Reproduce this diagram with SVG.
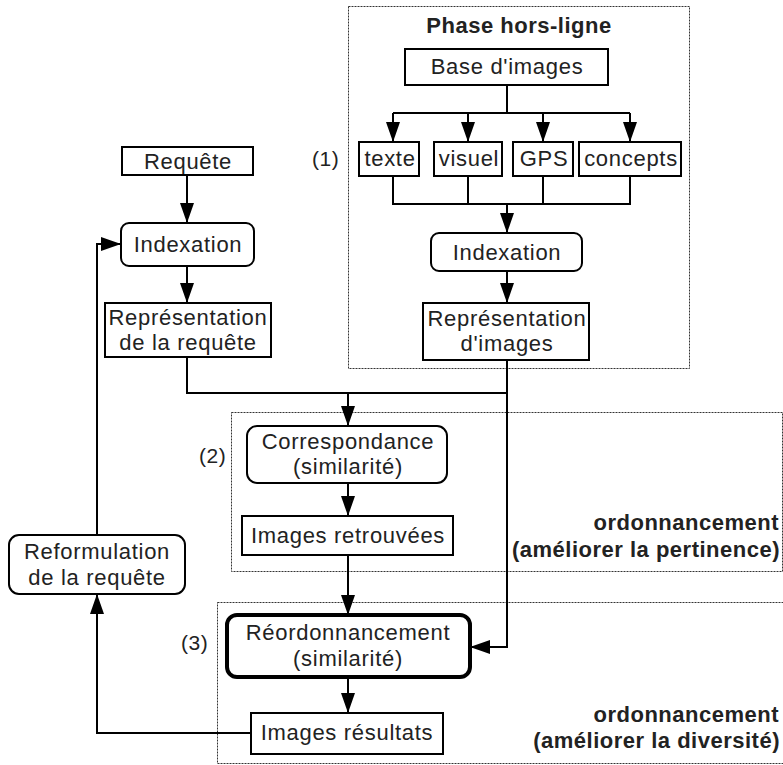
<svg xmlns="http://www.w3.org/2000/svg" width="783" height="765" viewBox="0 0 783 765">
  <style>
    .box { fill: #fff; stroke: #000; stroke-width: 2; }
    .thick { fill: #fff; stroke: #000; stroke-width: 4; }
    .zone { fill: none; stroke: #333; stroke-width: 1; stroke-dasharray: 2 1; }
    .t { font-family: "Liberation Sans", Arial, sans-serif; font-size: 22px; letter-spacing: 0.7px; fill: #222; text-anchor: middle; }
    .lbl { font-family: "Liberation Sans", Arial, sans-serif; font-size: 21px; letter-spacing: 0.5px; fill: #222; }
    .b { font-family: "Liberation Sans", Arial, sans-serif; font-size: 22px; font-weight: bold; letter-spacing: 0.5px; fill: #222; }
    .end { text-anchor: end; }
    .mid { text-anchor: middle; }
    .c { fill: none; stroke: #000; stroke-width: 2; }
    .ca { fill: none; stroke: #000; stroke-width: 2; marker-end: url(#arr); }
  </style>
  <defs>
    <marker id="arr" viewBox="0 0 20 14" refX="20" refY="7" markerWidth="20" markerHeight="14" markerUnits="userSpaceOnUse" orient="auto">
      <path d="M0,0 L20,7 L0,14 Z" fill="#000"/>
    </marker>
  </defs>

  <!-- dotted zones -->
  <g id="zones">
    <rect class="zone" x="348.5" y="6.5" width="341" height="362"/>
    <rect class="zone" x="231.5" y="412.5" width="551" height="159"/>
    <rect class="zone" x="217.5" y="602.5" width="570" height="161"/>
  </g>

  <!-- connectors -->
  <g id="connectors">
    <polyline class="c" points="507,85 507,113"/>
    <polyline class="c" points="393,113 630,113"/>
    <line class="ca" x1="393" y1="113" x2="393" y2="142"/>
    <line class="ca" x1="468" y1="113" x2="468" y2="142"/>
    <line class="ca" x1="543" y1="113" x2="543" y2="142"/>
    <line class="ca" x1="630" y1="113" x2="630" y2="142"/>
    <polyline class="c" points="393,176 393,204 630,204 630,176"/>
    <line class="c" x1="468" y1="176" x2="468" y2="204"/>
    <line class="c" x1="543" y1="176" x2="543" y2="204"/>
    <line class="ca" x1="507" y1="204" x2="507" y2="233"/>
    <line class="ca" x1="507" y1="271" x2="507" y2="303"/>
    <line class="ca" x1="187" y1="175" x2="187" y2="223"/>
    <line class="ca" x1="187" y1="266" x2="187" y2="303"/>
    <polyline class="c" points="187,357 187,393 507,393"/>
    <polyline class="ca" points="507,360 507,647 470,647"/>
    <line class="ca" x1="348" y1="393" x2="348" y2="426"/>
    <line class="ca" x1="348" y1="483" x2="348" y2="516"/>
    <line class="ca" x1="348" y1="555" x2="348" y2="615"/>
    <line class="ca" x1="348" y1="677" x2="348" y2="713"/>
    <polyline class="ca" points="251,733 97,733 97,594"/>
    <polyline class="ca" points="97,535 97,244 121,244"/>
  </g>

  <!-- offline phase -->
  <text class="b mid" x="519" y="33">Phase hors-ligne</text>
  <g id="base-images">
    <rect class="box" x="405" y="49" width="203" height="36"/>
    <text class="t" x="507" y="74">Base d'images</text>
  </g>
  <g id="texte">
    <rect class="box" x="359" y="142" width="60" height="34"/>
    <text class="t" x="390" y="166">texte</text>
  </g>
  <g id="visuel">
    <rect class="box" x="434" y="142" width="68" height="34"/>
    <text class="t" x="469" y="166">visuel</text>
  </g>
  <g id="gps">
    <rect class="box" x="513" y="142" width="60" height="34"/>
    <text class="t" x="544" y="166">GPS</text>
  </g>
  <g id="concepts">
    <rect class="box" x="579" y="142" width="102" height="34"/>
    <text class="t" x="631" y="166">concepts</text>
  </g>
  <text class="lbl" x="312" y="166">(1)</text>
  <g id="indexation-images">
    <rect class="box" x="431" y="233" width="151" height="38" rx="8"/>
    <text class="t" x="507" y="260">Indexation</text>
  </g>
  <g id="representation-images">
    <rect class="box" x="423" y="303" width="166" height="57"/>
    <text class="t" x="507" y="326">Représentation</text>
    <text class="t" x="507" y="351">d'images</text>
  </g>

  <!-- query side -->
  <g id="requete">
    <rect class="box" x="122" y="147" width="131" height="28"/>
    <text class="t" x="188" y="169">Requête</text>
  </g>
  <g id="indexation-requete">
    <rect class="box" x="121" y="223" width="133" height="43" rx="8"/>
    <text class="t" x="188" y="252">Indexation</text>
  </g>
  <g id="representation-requete">
    <rect class="box" x="105" y="303" width="166" height="54"/>
    <text class="t" x="188" y="325">Représentation</text>
    <text class="t" x="188" y="350">de la requête</text>
  </g>
  <g id="reformulation">
    <rect class="box" x="9" y="535" width="176" height="59" rx="10"/>
    <text class="t" x="97" y="559">Reformulation</text>
    <text class="t" x="97" y="585">de la requête</text>
  </g>

  <!-- matching -->
  <text class="lbl" x="199" y="463">(2)</text>
  <g id="correspondance">
    <rect class="box" x="247" y="426" width="200" height="57" rx="10"/>
    <text class="t" x="348" y="449">Correspondance</text>
    <text class="t" x="348" y="474">(similarité)</text>
  </g>
  <g id="images-retrouvees">
    <rect class="box" x="242" y="516" width="211" height="39"/>
    <text class="t" x="348" y="543">Images retrouvées</text>
  </g>
  <text class="b end" x="779" y="530">ordonnancement</text>
  <text class="b end" x="780" y="557">(améliorer la pertinence)</text>

  <!-- re-ranking -->
  <text class="lbl" x="181" y="650">(3)</text>
  <g id="reordonnancement">
    <rect class="thick" x="227" y="615" width="243" height="62" rx="10"/>
    <text class="t" x="348" y="640">Réordonnancement</text>
    <text class="t" x="348" y="666">(similarité)</text>
  </g>
  <g id="images-resultats">
    <rect class="box" x="251" y="713" width="192" height="41"/>
    <text class="t" x="347" y="740">Images résultats</text>
  </g>
  <text class="b end" x="779" y="722">ordonnancement</text>
  <text class="b end" x="780" y="748">(améliorer la diversité)</text>
</svg>
